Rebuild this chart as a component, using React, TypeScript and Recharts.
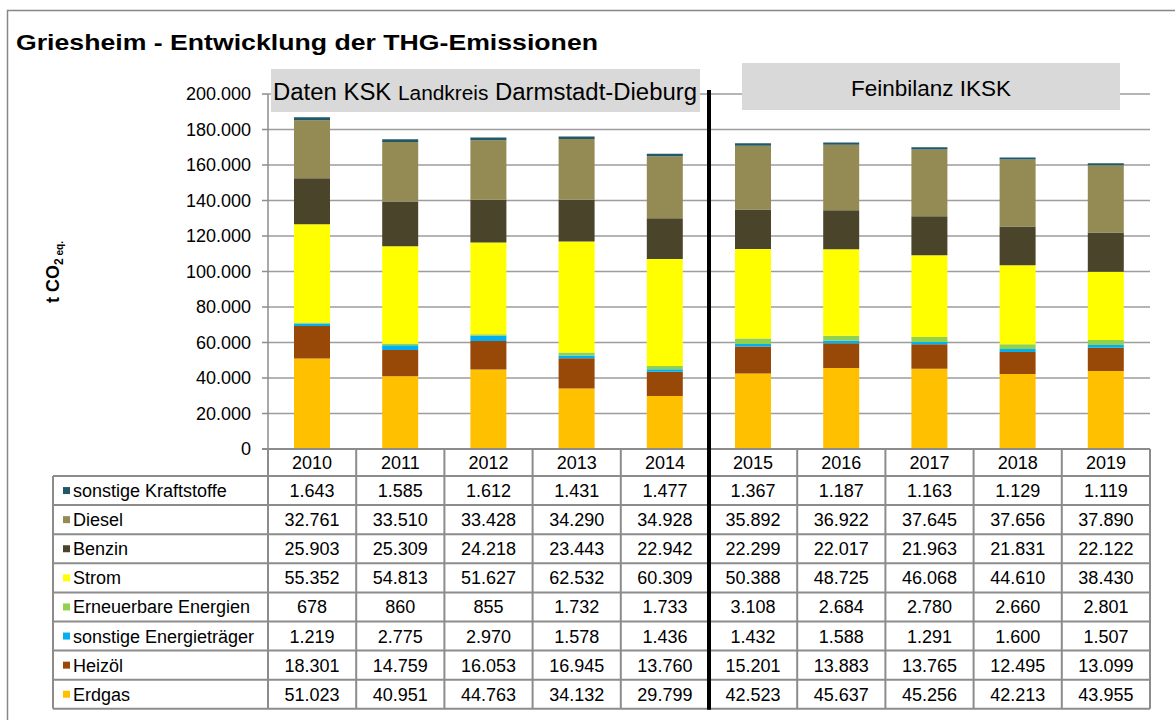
import React from 'react';
import { BarChart, Bar, XAxis, YAxis, CartesianGrid } from 'recharts';

// ---------- data ----------
const years = ['2010', '2011', '2012', '2013', '2014', '2015', '2016', '2017', '2018', '2019'];
const sonstigeKraftstoffe = [1643, 1585, 1612, 1431, 1477, 1367, 1187, 1163, 1129, 1119];
const diesel = [32761, 33510, 33428, 34290, 34928, 35892, 36922, 37645, 37656, 37890];
const benzin = [25903, 25309, 24218, 23443, 22942, 22299, 22017, 21963, 21831, 22122];
const strom = [55352, 54813, 51627, 62532, 60309, 50388, 48725, 46068, 44610, 38430];
const erneuerbareEnergien = [678, 860, 855, 1732, 1733, 3108, 2684, 2780, 2660, 2801];
const sonstigeEnergietraeger = [1219, 2775, 2970, 1578, 1436, 1432, 1588, 1291, 1600, 1507];
const heizoel = [18301, 14759, 16053, 16945, 13760, 15201, 13883, 13765, 12495, 13099];
const erdgas = [51023, 40951, 44763, 34132, 29799, 42523, 45637, 45256, 42213, 43955];
const yTicks = [0, 20000, 40000, 60000, 80000, 100000, 120000, 140000, 160000, 180000, 200000];

const title = 'Griesheim - Entwicklung der THG-Emissionen';
const boxLeftText = ['Daten KSK ', 'Landkreis', ' Darmstadt-Dieburg'];
const boxRightText = 'Feinbilanz IKSK';

// series in stacking order (bottom -> top)
const series = [
  { key: 'erdgas', name: 'Erdgas', values: erdgas, color: '#FFC000' },
  { key: 'heizoel', name: 'Heizöl', values: heizoel, color: '#984807' },
  { key: 'sonstigeEnergietraeger', name: 'sonstige Energieträger', values: sonstigeEnergietraeger, color: '#00B0F0' },
  { key: 'erneuerbareEnergien', name: 'Erneuerbare Energien', values: erneuerbareEnergien, color: '#92D050' },
  { key: 'strom', name: 'Strom', values: strom, color: '#FFFF00' },
  { key: 'benzin', name: 'Benzin', values: benzin, color: '#4A452A' },
  { key: 'diesel', name: 'Diesel', values: diesel, color: '#948A54' },
  { key: 'sonstigeKraftstoffe', name: 'sonstige Kraftstoffe', values: sonstigeKraftstoffe, color: '#215968' },
];

const chartData = years.map((year, i) => {
  const row: Record<string, string | number> = { year };
  series.forEach((s) => { row[s.key] = s.values[i]; });
  return row;
});

const fmt = (n: number) => String(n).replace(/\B(?=(\d{3})+(?!\d))/g, '.');

// ---------- layout ----------
const W = 1175;
const H = 720;
const plotLeft = 268;
const plotRight = 1150;
const plotTop = 94;
const plotBottom = 449;
const yAxisWidth = 100;
const colW = (plotRight - plotLeft) / years.length;
const headerBottom = 476;
const rowH = 29.1;
const tableLeft = 53;
const tableRows = [...series].reverse();
const tableBottom = headerBottom + rowH * tableRows.length;
const gridColor = '#9d9d9d';
const tableLine = '#8c8c8c';
const font = '"Liberation Sans", Arial, Helvetica, sans-serif';

export default function App() {
  return (
    <div style={{ position: 'absolute', left: 0, top: 0, width: W, height: H, background: '#fff', fontFamily: font }}>
      <BarChart
        width={W}
        height={H}
        data={chartData}
        margin={{ top: plotTop, right: W - plotRight, bottom: H - plotBottom, left: plotLeft - yAxisWidth }}
        barSize={36}
      >
        <CartesianGrid vertical={false} stroke={gridColor} strokeWidth={1.5} />
        <XAxis dataKey="year" hide />
        <YAxis
          width={yAxisWidth}
          domain={[0, 200000]}
          ticks={yTicks}
          interval={0}
          tickFormatter={(v: number) => fmt(v)}
          tick={{ fill: '#000', fontSize: 18 }}
          tickSize={6}
          tickMargin={11}
          axisLine={{ stroke: tableLine, strokeWidth: 1.5 }}
          tickLine={{ stroke: tableLine, strokeWidth: 1.5 }}
        />
        {series.map((s) => (
          <Bar key={s.key} dataKey={s.key} name={s.name} stackId="a" fill={s.color} isAnimationActive={false} />
        ))}
      </BarChart>

      <svg
        width={W}
        height={H}
        style={{ position: 'absolute', left: 0, top: 0, pointerEvents: 'none', fontFamily: font }}
      >
        {/* frame */}
        <rect x={7.5} y={10.5} width={W + 20} height={H + 20} fill="none" stroke="#878787" strokeWidth={1.5} />

        {/* title */}
        <text x={16} y={49.5} fontSize={22} fontWeight="bold" fill="#000" textLength={582} lengthAdjust="spacingAndGlyphs">
          {title}
        </text>

        {/* y axis title */}
        <text
          x={59}
          y={272}
          transform="rotate(-90 59 272)"
          textAnchor="middle"
          fontSize={18}
          fontWeight="bold"
          fill="#000"
        >
          t CO
          <tspan fontSize={12} dy={4}>2</tspan>
          <tspan fontSize={10}> eq.</tspan>
        </text>

        {/* annotation boxes */}
        <rect x={271} y={69} width={429} height={43} fill="#d9d9d9" />
        <text x={273} y={100} fontSize={23.5} fill="#000" textLength={424} lengthAdjust="spacingAndGlyphs">
          <tspan>{boxLeftText[0]}</tspan>
          <tspan fontSize={20.5}>{boxLeftText[1]}</tspan>
          <tspan>{boxLeftText[2]}</tspan>
        </text>
        <rect x={742} y={63} width={378} height={47} fill="#d9d9d9" />
        <text x={931} y={96} fontSize={22.5} fill="#000" textAnchor="middle">
          {boxRightText}
        </text>

        {/* table: header cells */}
        {years.map((y, i) => (
          <text key={'h' + y} x={plotLeft + colW * (i + 0.5)} y={469} fontSize={18} textAnchor="middle" fill="#000">
            {y}
          </text>
        ))}

        {/* table rows */}
        {tableRows.map((s, r) => {
          const yc = headerBottom + rowH * (r + 0.5);
          return (
            <g key={'r' + s.key}>
              <rect x={63} y={yc - 3.5} width={7} height={7} fill={s.color} />
              <text x={73} y={yc + 6.5} fontSize={18} fill="#000">{s.name}</text>
              {s.values.map((v, i) => (
                <text key={i} x={plotLeft + colW * (i + 0.5)} y={yc + 6.5} fontSize={18} textAnchor="middle" fill="#000">
                  {fmt(v)}
                </text>
              ))}
            </g>
          );
        })}

        {/* table grid lines */}
        <line x1={plotLeft - 6} y1={plotBottom} x2={plotRight} y2={plotBottom} stroke={tableLine} strokeWidth={2} />
        {Array.from({ length: tableRows.length + 1 }).map((_, r) => (
          <line
            key={'hl' + r}
            x1={tableLeft}
            x2={plotRight}
            y1={headerBottom + rowH * r}
            y2={headerBottom + rowH * r}
            stroke={tableLine}
            strokeWidth={2}
          />
        ))}
        <line x1={tableLeft} x2={tableLeft} y1={headerBottom} y2={tableBottom} stroke={tableLine} strokeWidth={2} />
        {Array.from({ length: years.length + 1 }).map((_, i) => (
          <line
            key={'vl' + i}
            x1={plotLeft + colW * i}
            x2={plotLeft + colW * i}
            y1={plotBottom}
            y2={tableBottom}
            stroke={tableLine}
            strokeWidth={2}
          />
        ))}

        {/* separator between data sources */}
        <line x1={plotLeft + colW * 5} x2={plotLeft + colW * 5} y1={90} y2={tableBottom + 1} stroke="#000" strokeWidth={4} />
      </svg>
    </div>
  );
}
